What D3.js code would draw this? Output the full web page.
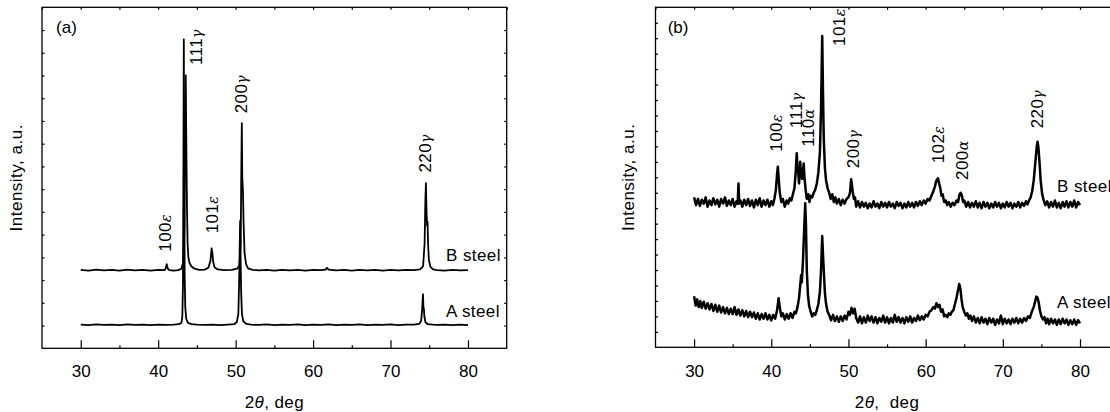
<!DOCTYPE html>
<html>
<head>
<meta charset="utf-8">
<script src="https://cdn.jsdelivr.net/npm/d3@7"></script>
<style>
body{margin:0;background:#fff}
svg{display:block}
text{font-family:"Liberation Sans",Arial,sans-serif;fill:#000}
</style>
</head>
<body>
<svg width="1110" height="412"></svg>
<script>
// panel (a) patterns, [2theta, intensity]
var aSteelA = [[30,1.04],[31,1.02],[32,1.05],[33,1.03],[34,1.04],[35,1.02],[36,1.05],[37,1.03],[38,1.04],[39,1.02],[40,1.04],[41,1.03],[42,1.04],[42.7,1.06],[43.0,1.12],[43.12,1.4],[43.2,2.8],[43.25,7],[43.31,13.59],[43.36,8],[43.42,3.2],[43.5,1.8],[43.62,1.3],[43.85,1.12],[44.3,1.06],[45,1.04],[46,1.03],[47,1.04],[48,1.02],[49,1.04],[49.8,1.06],[50.15,1.15],[50.35,1.5],[50.46,3.0],[50.58,5.6],[50.65,3.8],[50.72,2.4],[50.82,1.5],[51.0,1.18],[51.4,1.07],[52,1.04],[53,1.03],[54,1.05],[55,1.02],[56,1.04],[57,1.03],[58,1.05],[59,1.02],[60,1.04],[61,1.03],[62,1.05],[63,1.02],[64,1.04],[65,1.03],[66,1.05],[67,1.02],[68,1.04],[69,1.03],[70,1.05],[71,1.02],[72,1.04],[73,1.04],[73.7,1.07],[73.95,1.2],[74.08,1.7],[74.19,2.38],[74.25,1.8],[74.3,1.76],[74.37,1.4],[74.5,1.15],[74.8,1.06],[75.5,1.04],[76,1.03],[77,1.04],[78,1.02],[79,1.04],[80,1.02]]

var aSteelB = [[30,3.45],[31,3.42],[32,3.46],[33,3.43],[34,3.45],[35,3.42],[36,3.46],[37,3.43],[38,3.45],[39,3.42],[40,3.45],[40.8,3.44],[40.95,3.5],[41.1,3.7],[41.25,3.5],[41.45,3.44],[42,3.42],[42.6,3.44],[43.0,3.5],[43.25,3.8],[43.4,5.5],[43.5,10.5],[43.56,12.0],[43.62,9.5],[43.67,7.8],[43.72,6.2],[43.8,4.6],[43.9,4.0],[44.05,3.75],[44.3,3.6],[44.7,3.5],[45.3,3.45],[46.0,3.46],[46.5,3.55],[46.75,3.85],[46.9,4.4],[47.0,4.2],[47.1,3.8],[47.3,3.55],[47.7,3.47],[48.5,3.44],[49.5,3.45],[50.2,3.5],[50.5,3.65],[50.65,4.6],[50.74,8],[50.8,9.9],[50.86,7.5],[50.95,6.9],[51.02,5.6],[51.15,4.2],[51.35,3.7],[51.6,3.52],[52.2,3.45],[53,3.43],[54,3.45],[55,3.42],[56,3.45],[57,3.43],[58,3.45],[59,3.42],[60,3.45],[61,3.44],[61.6,3.46],[61.8,3.54],[62.0,3.46],[63,3.43],[64,3.45],[65,3.42],[66,3.45],[67,3.43],[68,3.45],[69,3.42],[70,3.45],[71,3.43],[72,3.45],[73,3.44],[73.8,3.47],[74.2,3.6],[74.4,4.6],[74.5,6.5],[74.57,7.26],[74.65,6.0],[74.72,5.4],[74.78,5.57],[74.85,4.6],[74.95,3.9],[75.15,3.58],[75.5,3.47],[76,3.44],[77,3.42],[78,3.45],[79,3.43],[80,3.44]]

// panel (b) patterns
var bSteelA = [[30.0,3.3],[30.2,2.7],[30.4,3.1],[30.6,2.6],[30.8,3.0],[31.0,2.55],[31.25,2.95],[31.5,2.5],[31.75,2.85],[32.0,2.45],[32.25,2.8],[32.5,2.35],[32.75,2.75],[33.0,2.3],[33.25,2.7],[33.5,2.25],[33.75,2.6],[34.0,2.2],[34.25,2.55],[34.5,2.15],[34.75,2.5],[35.0,2.15],[35.25,2.6],[35.5,2.1],[35.75,2.45],[36.0,2.05],[36.25,2.4],[36.5,2.0],[36.75,2.35],[37.0,1.95],[37.25,2.3],[37.5,1.95],[37.75,2.25],[38.0,1.85],[38.25,2.2],[38.5,1.8],[38.75,2.15],[39.0,1.85],[39.25,2.2],[39.5,1.8],[39.75,2.1],[40.0,1.75],[40.25,2.1],[40.5,1.85],[40.75,2.4],[40.95,3.17],[41.1,2.6],[41.3,2.0],[41.5,2.2],[41.75,1.8],[42.0,2.15],[42.25,1.85],[42.5,2.2],[42.75,1.9],[43.0,2.3],[43.2,2.2],[43.4,2.6],[43.6,3.2],[43.75,4.0],[43.87,4.68],[43.95,4.2],[44.1,5.5],[44.25,7.5],[44.4,9.32],[44.5,7.8],[44.6,5.0],[44.75,3.4],[44.9,2.7],[45.1,2.3],[45.3,2.0],[45.5,2.2],[45.7,2.1],[45.9,2.4],[46.1,2.8],[46.3,3.6],[46.45,5.0],[46.6,7.2],[46.7,6.0],[46.8,5.0],[46.95,3.5],[47.1,2.8],[47.3,2.3],[47.5,2.1],[47.75,1.75],[48.0,2.1],[48.25,1.7],[48.5,2.0],[48.75,1.65],[49.0,2.0],[49.25,1.7],[49.5,2.05],[49.75,1.8],[50.0,2.3],[50.2,2.1],[50.4,2.55],[50.6,2.2],[50.8,2.5],[51.0,1.9],[51.25,1.6],[51.5,2.0],[51.75,1.55],[52.0,1.95],[52.25,1.6],[52.5,2.05],[52.75,1.7],[53.0,2.0],[53.25,1.6],[53.5,1.95],[53.75,1.55],[54.0,1.9],[54.25,1.65],[54.5,2.05],[54.75,1.6],[55.0,1.95],[55.25,1.55],[55.5,1.9],[55.75,1.6],[56.0,2.1],[56.25,1.65],[56.5,1.95],[56.75,1.6],[57.0,1.9],[57.25,1.55],[57.5,1.95],[57.75,1.65],[58.0,2.0],[58.25,1.6],[58.5,1.9],[58.75,1.7],[59.0,2.05],[59.25,1.75],[59.5,2.0],[59.75,1.8],[60.0,2.1],[60.25,2.0],[60.5,2.3],[60.75,2.4],[61.0,2.6],[61.2,2.5],[61.4,2.85],[61.6,2.6],[61.8,2.75],[62.0,2.3],[62.2,2.45],[62.4,2.0],[62.6,2.1],[62.8,1.95],[63.0,2.2],[63.2,2.1],[63.4,2.3],[63.6,2.4],[63.8,2.8],[64.0,3.2],[64.2,3.7],[64.35,4.1],[64.5,3.8],[64.65,3.1],[64.8,2.6],[65.0,2.3],[65.2,2.05],[65.4,2.2],[65.6,1.85],[65.8,2.05],[66.0,1.7],[66.25,2.0],[66.5,1.6],[66.75,1.9],[67.0,1.55],[67.25,1.95],[67.5,1.6],[67.75,1.85],[68.0,1.5],[68.25,1.9],[68.5,1.6],[68.75,1.85],[69.0,1.45],[69.25,1.8],[69.5,1.55],[69.75,2.05],[70.0,1.5],[70.25,1.85],[70.5,1.55],[70.75,1.8],[71.0,1.5],[71.25,1.85],[71.5,1.6],[71.75,1.9],[72.0,1.55],[72.25,1.85],[72.5,1.6],[72.75,1.9],[73.0,1.7],[73.25,2.0],[73.5,1.9],[73.75,2.3],[74.0,2.6],[74.2,3.0],[74.35,3.28],[74.5,3.2],[74.65,2.9],[74.8,2.4],[75.0,2.0],[75.2,1.8],[75.4,1.95],[75.6,1.55],[75.8,1.85],[76.0,1.5],[76.25,1.85],[76.5,1.55],[76.75,1.8],[77.0,1.45],[77.25,1.8],[77.5,1.5],[77.75,1.85],[78.0,1.55],[78.25,1.8],[78.5,1.45],[78.75,1.75],[79.0,1.5],[79.25,1.8],[79.5,1.45],[79.75,1.75],[80.0,1.55]]

var bSteelB = [[30.0,9.7],[30.25,9.2],[30.5,9.6],[30.75,9.15],[31.0,9.55],[31.25,9.3],[31.5,9.7],[31.75,9.1],[32.0,9.5],[32.25,9.2],[32.5,9.65],[32.75,9.25],[33.0,9.55],[33.25,9.1],[33.5,9.6],[33.75,9.3],[34.0,9.7],[34.25,9.15],[34.5,9.5],[34.75,9.2],[35.0,9.6],[35.25,9.1],[35.5,9.45],[35.65,9.3],[35.75,10.6],[35.85,9.3],[36.0,9.5],[36.25,9.1],[36.5,9.55],[36.75,9.2],[37.0,9.6],[37.25,9.15],[37.5,9.5],[37.75,9.05],[38.0,9.55],[38.25,9.2],[38.5,9.65],[38.75,9.1],[39.0,9.5],[39.25,9.2],[39.5,9.55],[39.75,9.1],[40.0,9.45],[40.2,9.2],[40.4,9.6],[40.6,10.2],[40.75,11.2],[40.85,11.69],[40.95,11.0],[41.1,10.0],[41.3,9.4],[41.5,9.6],[41.75,9.1],[42.0,9.5],[42.2,9.3],[42.4,9.65],[42.6,9.5],[42.8,9.9],[43.0,10.3],[43.15,11.2],[43.3,12.56],[43.4,11.6],[43.5,11.3],[43.6,10.6],[43.75,12.0],[43.85,11.2],[44.0,10.9],[44.2,11.9],[44.3,11.0],[44.45,10.2],[44.6,9.6],[44.8,9.9],[44.95,9.4],[45.1,9.8],[45.3,9.7],[45.5,10.0],[45.7,10.2],[45.9,10.6],[46.1,11.3],[46.3,12.6],[46.45,15.5],[46.6,20.15],[46.7,16.5],[46.8,13.5],[46.95,11.6],[47.1,10.8],[47.3,10.3],[47.5,10.0],[47.7,9.6],[47.9,9.9],[48.1,9.4],[48.3,9.7],[48.5,9.3],[48.75,9.6],[49.0,9.2],[49.25,9.55],[49.5,9.3],[49.75,9.6],[50.0,9.7],[50.2,10.0],[50.35,10.87],[50.45,10.5],[50.55,10.1],[50.7,9.6],[50.85,9.7],[51.0,9.1],[51.25,9.45],[51.5,9.05],[51.75,9.4],[52.0,9.1],[52.25,9.35],[52.5,9.0],[52.75,9.3],[53.0,9.05],[53.25,9.45],[53.5,9.1],[53.75,9.3],[54.0,9.0],[54.25,9.4],[54.5,9.1],[54.75,9.35],[55.0,9.05],[55.25,9.4],[55.5,9.1],[55.75,9.3],[56.0,9.0],[56.25,9.4],[56.5,9.15],[56.75,9.35],[57.0,9.0],[57.25,9.3],[57.5,9.05],[57.75,9.4],[58.0,9.1],[58.25,9.35],[58.5,9.05],[58.75,9.4],[59.0,9.15],[59.25,9.45],[59.5,9.2],[59.75,9.5],[60.0,9.3],[60.25,9.6],[60.5,9.5],[60.75,9.8],[61.0,10.1],[61.2,10.4],[61.4,10.8],[61.6,10.94],[61.75,10.6],[61.9,10.3],[62.05,9.8],[62.2,9.9],[62.4,9.4],[62.6,9.5],[62.8,9.2],[63.0,9.4],[63.25,9.1],[63.5,9.35],[63.75,9.2],[64.0,9.5],[64.2,9.4],[64.4,9.9],[64.55,10.0],[64.7,9.8],[64.85,9.4],[65.0,9.5],[65.25,9.1],[65.5,9.4],[65.75,9.05],[66.0,9.35],[66.25,9.1],[66.5,9.45],[66.75,9.05],[67.0,9.35],[67.25,9.0],[67.5,9.4],[67.75,9.1],[68.0,9.35],[68.25,9.0],[68.5,9.3],[68.75,9.05],[69.0,9.4],[69.25,9.1],[69.5,9.35],[69.75,9.0],[70.0,9.3],[70.25,9.05],[70.5,9.4],[70.75,9.1],[71.0,9.35],[71.25,9.0],[71.5,9.3],[71.75,9.1],[72.0,9.4],[72.25,9.05],[72.5,9.35],[72.75,9.15],[73.0,9.45],[73.2,9.25],[73.4,9.5],[73.6,9.7],[73.8,10.1],[74.0,10.8],[74.2,11.9],[74.4,13.0],[74.5,13.3],[74.6,13.0],[74.75,12.0],[74.9,10.8],[75.1,9.9],[75.3,9.5],[75.5,9.2],[75.75,9.45],[76.0,9.05],[76.25,9.4],[76.5,9.1],[76.75,9.5],[77.0,9.05],[77.25,9.35],[77.5,9.0],[77.75,9.4],[78.0,9.1],[78.25,9.45],[78.5,9.05],[78.75,9.4],[79.0,9.1],[79.25,9.5],[79.5,9.05],[79.75,9.4],[80.0,9.2]]

var xTicks = [30,40,50,60,70,80]
var xMinor = [35,45,55,65,75]
var xTop = [25,30,35,40,45,50,55,60,65,70,75,80,85]

// peak labels: number, phase letter, position in data units
var aLabels = [
    {n:"100",g:"ε",x:41.72,y:4.25},
    {n:"111",g:"γ",x:45.62,y:12.46},
    {n:"101",g:"ε",x:47.73,y:5.06},
    {n:"200",g:"γ",x:51.43,y:10.34},
    {n:"220",g:"γ",x:75.29,y:7.73}
]
var bLabels = [
    {n:"100",g:"ε",x:41.41,y:12.66},
    {n:"111",g:"γ",x:43.96,y:14.17},
    {n:"110",g:"α",x:45.6,y:12.98},
    {n:"101",g:"ε",x:49.49,y:19.5},
    {n:"200",g:"γ",x:51.31,y:11.59},
    {n:"102",g:"ε",x:62.37,y:11.91},
    {n:"200",g:"α",x:65.49,y:10.83},
    {n:"220",g:"γ",x:75.21,y:14.17}
]
var aNames = [{t:"B steel",x:77.17,y:3.84},{t:"A steel",x:77.17,y:1.39}]
var bNames = [{t:"B steel",x:77.03,y:10.07},{t:"A steel",x:77.03,y:2.52}]

var svg = d3.select("svg")

var panels = [
    {tag:"(a)", tagAt:[26.81,13.85], left:42, right:506.7, top:7.3, bottom:348.3, ymax:15,
     lines:[aSteelA,aSteelB], width:1.8, labels:aLabels, names:aNames, xtitle:", deg", ytitleX:22, pad:17},
    {tag:"(b)", tagAt:[26.58,20.34], left:655.5, right:1118.6, top:7.3, bottom:347.3, ymax:22,
     lines:[bSteelA,bSteelB], width:2.5, labels:bLabels, names:bNames, xtitle:",  deg", ytitleX:633.5, pad:18}
]

var clean = function(sel)
{
    sel.select(".domain").remove()
    sel.selectAll(".tick line").attr("stroke","#000").attr("stroke-width",1.2)
    sel.selectAll("text").attr("font-family","Liberation Sans, Arial, sans-serif").attr("font-size",17).attr("fill","#000")
}

var drawPanel = function(p)
{
    var g = svg.append("g")
    var x = d3.scaleLinear().domain([25,85]).range([p.left,p.right])
    var y = d3.scaleLinear().domain([0,p.ymax]).range([p.bottom,p.top])
    var yTicks = d3.range(1,p.ymax)

    g.append("g").attr("transform","translate(0,"+p.bottom+")")
        .call(d3.axisBottom(x).tickValues(xTicks).tickSizeInner(-8).tickSizeOuter(0).tickPadding(p.pad))
        .call(clean)
    g.append("g").attr("transform","translate(0,"+p.bottom+")")
        .call(d3.axisBottom(x).tickValues(xMinor).tickSizeInner(-3).tickSizeOuter(0).tickFormat(""))
        .call(clean)
    g.append("g").attr("transform","translate(0,"+p.top+")")
        .call(d3.axisTop(x).tickValues(xTop).tickSizeInner(-2.5).tickSizeOuter(0).tickFormat(""))
        .call(clean)
    g.append("g").attr("transform","translate("+p.left+",0)")
        .call(d3.axisLeft(y).tickValues(yTicks).tickSizeInner(-2.5).tickSizeOuter(0).tickFormat(""))
        .call(clean)
    g.append("g").attr("transform","translate("+p.right+",0)")
        .call(d3.axisRight(y).tickValues(yTicks).tickSizeInner(-2.5).tickSizeOuter(0).tickFormat(""))
        .call(clean)

    g.append("rect")
        .attr("x",p.left).attr("y",p.top)
        .attr("width",p.right-p.left).attr("height",p.bottom-p.top)
        .attr("fill","none").attr("stroke","#000").attr("stroke-width",1.3)

    var line = d3.line().x(function(d){return x(d[0])}).y(function(d){return y(d[1])})
    g.selectAll("path.pattern")
        .data(p.lines)
        .enter()
        .append("path")
        .attr("class","pattern")
        .attr("d",line)
        .attr("fill","none")
        .attr("stroke","#000")
        .attr("stroke-width",p.width)
        .attr("stroke-linejoin","round")

    // rotated peak labels
    p.labels.forEach(function(d){
        var t = g.append("text")
            .attr("transform","translate("+x(d.x)+","+y(d.y)+") rotate(-90)")
            .attr("font-size",17)
            .attr("letter-spacing",0.4)
        t.append("tspan").text(d.n)
        t.append("tspan")
            .attr("font-family","DejaVu Serif, serif")
            .attr("font-style","italic")
            .attr("font-size",14)
            .text(d.g)
    })

    p.names.forEach(function(d){
        g.append("text").attr("x",x(d.x)).attr("y",y(d.y))
            .attr("font-size",17).attr("letter-spacing",0.4).text(d.t)
    })

    g.append("text").attr("x",x(p.tagAt[0])).attr("y",y(p.tagAt[1]))
        .attr("font-size",17).text(p.tag)

    var xt = g.append("text")
        .attr("x",(p.left+p.right)/2).attr("y",408)
        .attr("text-anchor","middle").attr("font-size",17).attr("letter-spacing",0.4)
        .attr("xml:space","preserve")
    xt.append("tspan").text("2")
    xt.append("tspan").attr("font-style","italic").text("θ")
    xt.append("tspan").text(p.xtitle)

    g.append("text")
        .attr("transform","translate("+p.ytitleX+","+((p.top+p.bottom)/2)+") rotate(-90)")
        .attr("text-anchor","middle").attr("font-size",17).attr("letter-spacing",0.5)
        .text("Intensity, a.u.")
}

panels.forEach(drawPanel)
</script>
</body>
</html>
